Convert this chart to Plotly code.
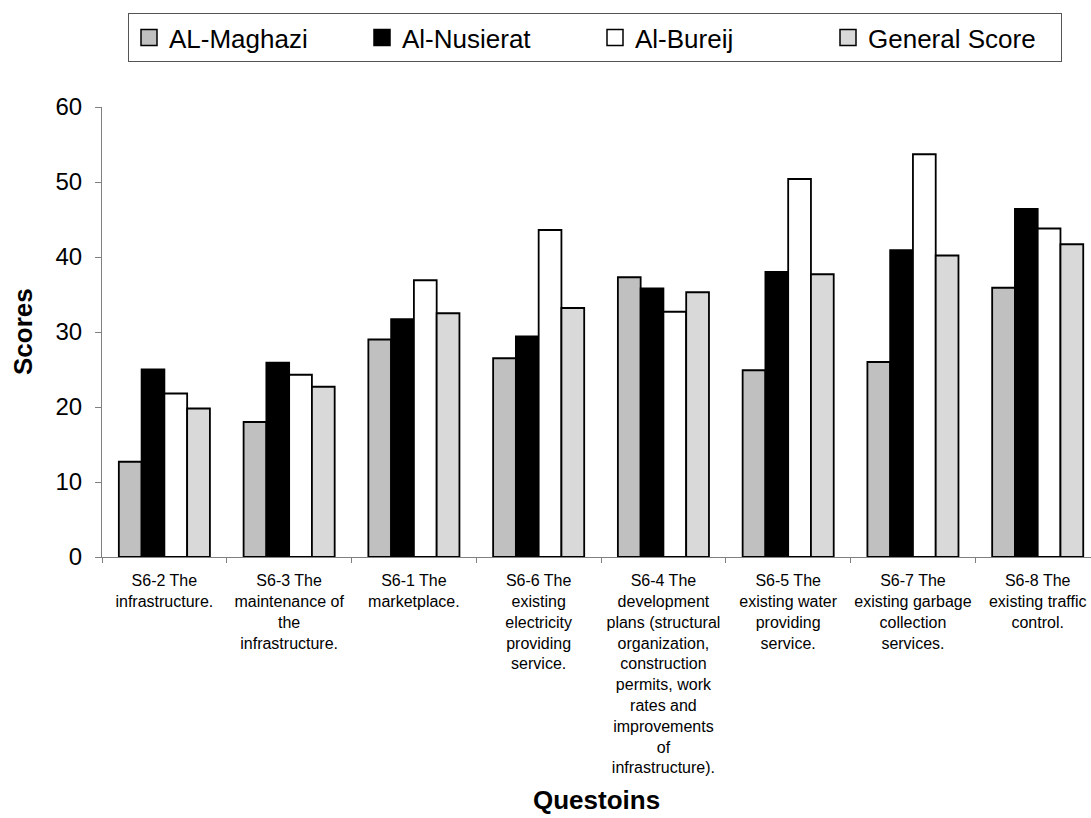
import plotly.graph_objects as go

# Question labels (line breaks as printed under each group)
questions = [
    "S6-2 The<br>infrastructure.",
    "S6-3 The<br>maintenance of<br>the<br>infrastructure.",
    "S6-1 The<br>marketplace.",
    "S6-6 The<br>existing<br>electricity<br>providing<br>service.",
    "S6-4 The<br>development<br>plans (structural<br>organization,<br>construction<br>permits, work<br>rates and<br>improvements<br>of<br>infrastructure).",
    "S6-5 The<br>existing water<br>providing<br>service.",
    "S6-7 The<br>existing garbage<br>collection<br>services.",
    "S6-8 The<br>existing traffic<br>control.",
]

# Scores per camp
al_maghazi = [12.7, 18.0, 29.0, 26.5, 37.3, 24.9, 26.0, 35.9]
al_nusierat = [25.0, 25.9, 31.7, 29.4, 35.8, 38.0, 40.9, 46.4]
al_bureij = [21.8, 24.3, 36.9, 43.6, 32.7, 50.4, 53.7, 43.8]
general_score = [19.8, 22.7, 32.5, 33.2, 35.3, 37.7, 40.2, 41.7]

series_names = ["AL-Maghazi", "Al-Nusierat", "Al-Bureij", "General Score"]
series_values = [al_maghazi, al_nusierat, al_bureij, general_score]
series_colors = ["#C0C0C0", "#000000", "#FFFFFF", "#D9D9D9"]

FONT = "Liberation Sans, Arial, sans-serif"
W, H = 1091, 818
M_L, M_R, M_T, M_B = 102, 0, 107, 261
CAT_PX = 124.76  # pixel width of one category slot
plot_w = W - M_L - M_R
plot_h = H - M_T - M_B

fig = go.Figure()
for name, vals, col in zip(series_names, series_values, series_colors):
    fig.add_trace(go.Bar(
        name=name,
        x=questions,
        y=vals,
        legendgroup=name,
        showlegend=False,
        marker=dict(color=col, line=dict(color="#000000", width=1.8)),
    ))

# Legend keys: larger outlined squares than the default bar swatch
for name, col in zip(series_names, series_colors):
    fig.add_trace(go.Scatter(
        name=name,
        x=[None],
        y=[None],
        mode="markers",
        legendgroup=name,
        showlegend=True,
        hoverinfo="skip",
        marker=dict(symbol="square", size=16, color=col,
                    line=dict(color="#000000", width=1.5)),
    ))

fig.update_layout(
    width=W,
    height=H,
    margin=dict(l=M_L, r=M_R, t=M_T, b=M_B, pad=0),
    paper_bgcolor="white",
    plot_bgcolor="white",
    barmode="group",
    bargap=0.27,
    bargroupgap=0,
    font=dict(family=FONT, color="#000000"),
    showlegend=True,
    legend=dict(
        orientation="h",
        x=(128 - M_L) / plot_w,
        xanchor="left",
        y=1 + (M_T - 13) / plot_h,
        yanchor="top",
        bordercolor="#555555",
        borderwidth=1,
        bgcolor="white",
        font=dict(family=FONT, size=26, color="#000000"),
        entrywidth=188,
        entrywidthmode="pixels",
        itemwidth=30,
        traceorder="normal",
    ),
    xaxis=dict(
        type="category",
        range=[-0.5, -0.5 + plot_w / CAT_PX],
        showline=True,
        linecolor="#808080",
        linewidth=1,
        ticks="outside",
        tickson="boundaries",
        ticklen=5,
        tickcolor="#808080",
        showgrid=False,
        tickangle=0,
        ticklabelstandoff=9,
        tickfont=dict(family=FONT, size=16, color="#000000"),
        zeroline=False,
    ),
    yaxis=dict(
        range=[0, 60],
        dtick=10,
        tick0=0,
        showline=True,
        linecolor="#808080",
        linewidth=1,
        ticks="outside",
        ticklen=6,
        tickcolor="#808080",
        showgrid=False,
        zeroline=False,
        ticklabelstandoff=8,
        tickfont=dict(family=FONT, size=24, color="#000000"),
    ),
    annotations=[
        dict(
            text="<b>Questoins</b>",
            xref="paper",
            yref="paper",
            x=0.5,
            y=-(800 - (H - M_B)) / plot_h,
            xanchor="center",
            yanchor="middle",
            showarrow=False,
            font=dict(family=FONT, size=26, color="#000000"),
        ),
        dict(
            text="<b>Scores</b>",
            xref="paper",
            yref="paper",
            x=(23 - M_L) / plot_w,
            y=0.5,
            xanchor="center",
            yanchor="middle",
            textangle=-90,
            showarrow=False,
            font=dict(family=FONT, size=26, color="#000000"),
        ),
    ],
)

fig.write_html("out.html")
